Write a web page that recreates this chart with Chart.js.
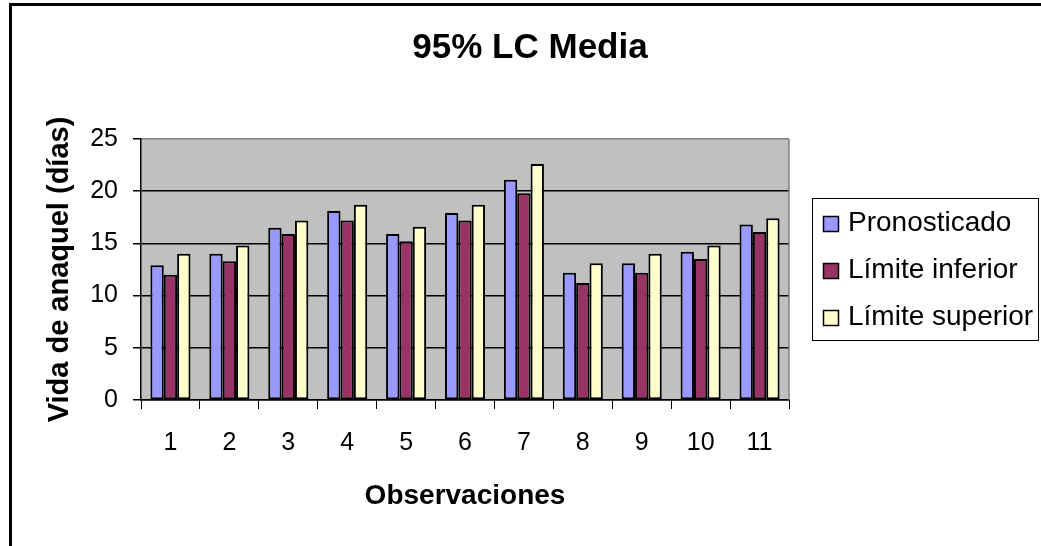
<!DOCTYPE html>
<html lang="es">
<head>
  <meta charset="UTF-8">
  <title>95% LC Media</title>
  <script src="https://cdn.jsdelivr.net/npm/chart.js@4.4.0/dist/chart.umd.min.js"></script>
  <style>
    body {
      margin: 0;
      background-color: #fff;
    }
    .chart-box {
      position: relative;
      width: 1041px;
      height: 546px;
    }
  </style>
</head>
<body>
  <div class="chart-box">
    <canvas id="lcChart"></canvas>
  </div>

  <script>
  // datos
  const observaciones = ['1', '2', '3', '4', '5', '6', '7', '8', '9', '10', '11'];
  const pronosticado = [12.9, 14.0, 16.5, 18.1, 15.9, 17.9, 21.1, 12.2, 13.1, 14.2, 16.8];
  const limiteInferior = [12.0, 13.3, 15.9, 17.2, 15.2, 17.2, 19.8, 11.2, 12.2, 13.5, 16.1];
  const limiteSuperior = [14.0, 14.8, 17.2, 18.7, 16.6, 18.7, 22.6, 13.1, 14.0, 14.8, 17.4];
  const yTicks = [0, 5, 10, 15, 20, 25];

  const fuente = "'Liberation Sans', Arial, sans-serif";

  // fondo gris del area de trazado y marco exterior
  const fondoPlot = {
    id: 'fondoPlot',
    beforeDraw(chart) {
      const { ctx, chartArea: a } = chart;
      ctx.save();
      ctx.fillStyle = '#c0c0c0';
      ctx.fillRect(a.left, a.top, a.right - a.left, a.bottom - a.top);
      ctx.strokeStyle = '#000';
      ctx.lineWidth = 3;
      ctx.beginPath();
      ctx.moveTo(10.5, 546);
      ctx.lineTo(10.5, 4.5);
      ctx.lineTo(1041, 4.5);
      ctx.stroke();
      ctx.restore();
    },
    beforeDatasetsDraw(chart) {
      const { ctx, chartArea: a } = chart;
      ctx.save();
      ctx.strokeStyle = '#808080';
      ctx.lineWidth = 1.5;
      ctx.beginPath();
      ctx.moveTo(a.right, a.top);
      ctx.lineTo(a.right, a.bottom);
      ctx.stroke();
      ctx.restore();
    }
  };

  // titulo y leyenda con recuadro
  const tituloLeyenda = {
    id: 'tituloLeyenda',
    afterDraw(chart) {
      const ctx = chart.ctx;
      ctx.save();
      ctx.fillStyle = '#000';
      ctx.textAlign = 'center';
      ctx.textBaseline = 'middle';
      ctx.font = 'bold 35px ' + fuente;
      ctx.fillText('95% LC Media', 530, 48);

      ctx.strokeStyle = '#000';
      ctx.lineWidth = 1;
      ctx.strokeRect(812.5, 198.5, 226, 142);

      ctx.textAlign = 'left';
      ctx.font = '28px ' + fuente;
      chart.data.datasets.forEach((ds, i) => {
        const y = 223 + i * 47;
        ctx.fillStyle = ds.backgroundColor;
        ctx.fillRect(823, y - 7, 16, 16);
        ctx.lineWidth = 1.5;
        ctx.strokeRect(823.5, y - 6.5, 15, 15);
        ctx.fillStyle = '#000';
        ctx.fillText(ds.label, 848, y);
      });
      ctx.restore();
    }
  };

  const ctx = document.getElementById('lcChart').getContext('2d');
  new Chart(ctx, {
    type: 'bar',
    data: {
      labels: observaciones,
      datasets: [
        {
          label: 'Pronosticado',
          data: pronosticado,
          backgroundColor: '#9999ff',
          borderColor: '#000',
          borderWidth: 2,
          borderSkipped: false
        },
        {
          label: 'Límite inferior',
          data: limiteInferior,
          backgroundColor: '#993366',
          borderColor: '#000',
          borderWidth: 2,
          borderSkipped: false
        },
        {
          label: 'Límite superior',
          data: limiteSuperior,
          backgroundColor: '#ffffcc',
          borderColor: '#000',
          borderWidth: 2,
          borderSkipped: false
        }
      ]
    },
    options: {
      responsive: true,
      maintainAspectRatio: false,
      animation: false,
      layout: {
        padding: { top: 139, right: 252, left: 0, bottom: 0 }
      },
      datasets: {
        bar: { categoryPercentage: 0.68, barPercentage: 1 }
      },
      plugins: {
        legend: { display: false },
        title: { display: false },
        tooltip: { enabled: false }
      },
      scales: {
        x: {
          afterFit(scale) { scale.height = 146; },
          grid: {
            offset: true,
            drawOnChartArea: false,
            tickLength: 9,
            tickColor: '#000',
            color: '#000'
          },
          border: { color: '#000', width: 1.5 },
          ticks: {
            color: '#000',
            padding: 19,
            font: { family: fuente, size: 25 }
          },
          title: {
            display: true,
            text: 'Observaciones',
            color: '#000',
            padding: { top: 0, bottom: 33 },
            font: { family: fuente, size: 28, weight: 'bold' }
          }
        },
        y: {
          min: 0,
          max: 25,
          afterFit(scale) { scale.width = 141; },
          afterBuildTicks(scale) {
            scale.ticks = yTicks.map(v => ({ value: v }));
          },
          grid: {
            color: c => (c.tick && c.tick.value === 25 ? '#808080' : '#000'),
            lineWidth: 1.5,
            tickLength: 8,
            tickColor: '#000'
          },
          border: { color: '#000', width: 1.5 },
          ticks: {
            color: '#000',
            padding: 15,
            font: { family: fuente, size: 25 }
          },
          title: {
            display: true,
            text: 'Vida de anaquel (días)',
            color: '#000',
            padding: { top: 43, bottom: 0 },
            font: { family: fuente, size: 29, weight: 'bold' }
          }
        }
      }
    },
    plugins: [fondoPlot, tituloLeyenda]
  });
</script>
</body>
</html>
